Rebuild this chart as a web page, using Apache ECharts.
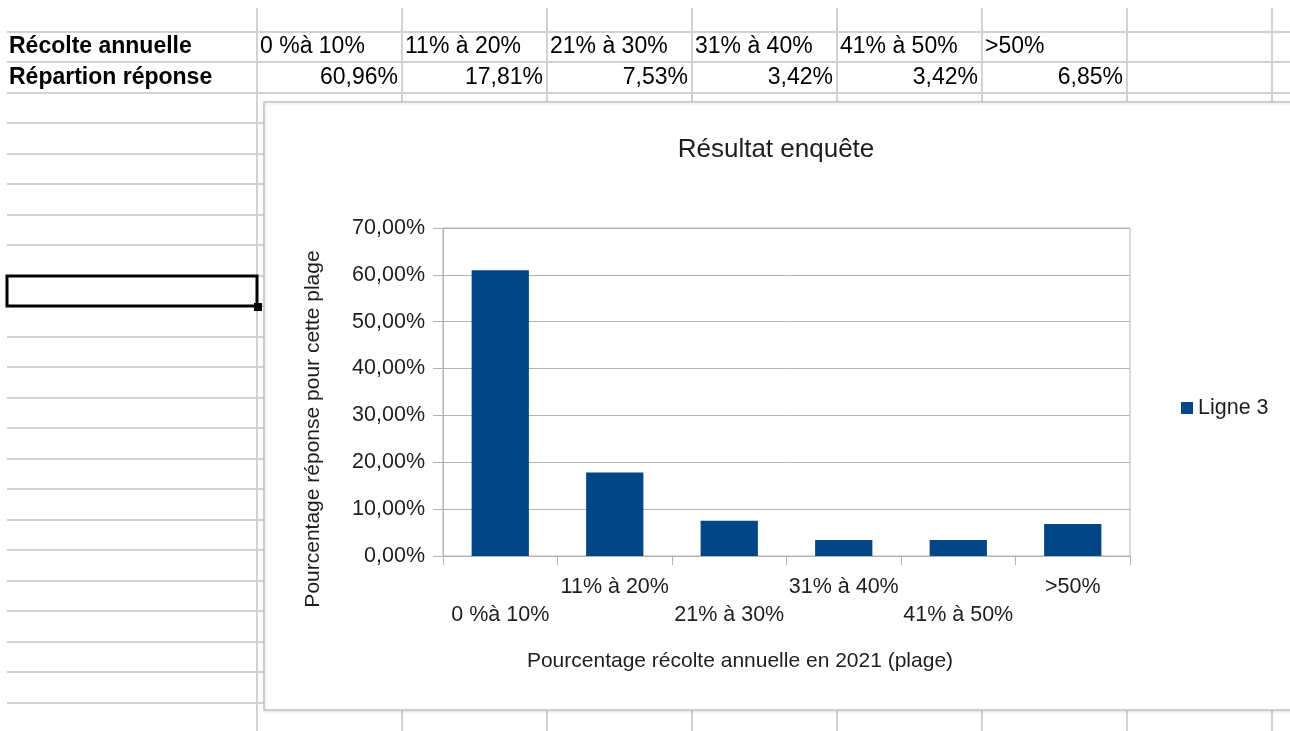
<!DOCTYPE html>
<html>
<head>
<meta charset="utf-8">
<title>Résultat enquête</title>
<script src="https://cdn.jsdelivr.net/npm/echarts@6.0.0/dist/echarts.min.js"></script>
<style>
  html, body { margin: 0; padding: 0; background: #fff; }
  #chart { width: 1290px; height: 731px; }
</style>
</head>
<body>
<div id="chart"></div>
<script>
// Data read from the sheet
const categories = ['0 %à 10%', '11% à 20%', '21% à 30%', '31% à 40%', '41% à 50%', '>50%'];
const shares = [60.96, 17.81, 7.53, 3.42, 3.42, 6.85];
const seriesName = 'Ligne 3';
const rowLabels = ['Récolte annuelle', 'Répartion réponse'];

const FONT = '"Liberation Sans", Arial, sans-serif';
const TEXT = '#1e1e1e';
const AXIS = '#b3b3b3';
const SHEET_LINE = '#d2d2d2';

function pct(v) {
    return v.toFixed(2).replace('.', ',') + '%';
}

// Spreadsheet background (grid, selection, cells)
function sheetGraphics() {
    const els = [];
    const colX = [];
    for (let k = 0; k < 8; k++) colX.push(257 + 145 * k);
    const rowY = [];
    for (let j = 0; j < 24; j++) rowY.push(Math.round(31.5 + 30.5 * j));

    colX.forEach(x => els.push({
        type: 'line', z: -10, silent: true,
        shape: { x1: x, y1: 8, x2: x, y2: 731 },
        style: { stroke: SHEET_LINE, lineWidth: 2 }
    }));
    rowY.forEach(y => els.push({
        type: 'line', z: -10, silent: true,
        shape: { x1: 7, y1: y, x2: 1290, y2: y },
        style: { stroke: SHEET_LINE, lineWidth: 2 }
    }));

    // row headers (bold)
    rowLabels.forEach((t, i) => els.push({
        type: 'text', z: -9, silent: true,
        x: 9, y: 47 + 30.5 * i,
        style: { text: t, font: 'bold 23px ' + FONT, fill: '#000', textVerticalAlign: 'middle' }
    }));
    // categories row, left aligned
    categories.forEach((c, i) => els.push({
        type: 'text', z: -9, silent: true,
        x: colX[i] + 3, y: 47,
        style: { text: c, font: '23px ' + FONT, fill: '#000', textVerticalAlign: 'middle' }
    }));
    // values row, right aligned
    shares.forEach((v, i) => els.push({
        type: 'text', z: -9, silent: true,
        x: colX[i + 1] - 4, y: 77.5,
        style: { text: pct(v), font: '23px ' + FONT, fill: '#000', textAlign: 'right', textVerticalAlign: 'middle' }
    }));

    // selected cell
    els.push({
        type: 'rect', z: -8, silent: true,
        shape: { x: 7, y: 276, width: 250, height: 30 },
        style: { fill: 'none', stroke: '#000', lineWidth: 3 }
    });
    els.push({
        type: 'rect', z: -8, silent: true,
        shape: { x: 254, y: 303, width: 8, height: 8 },
        style: { fill: '#000' }
    });

    // chart frame
    els.push({
        type: 'rect', z: -5, silent: true,
        shape: { x: 264, y: 102, width: 1060, height: 608 },
        style: {
            fill: '#fff', stroke: '#c4c4c4', lineWidth: 1.5,
            shadowBlur: 3, shadowColor: 'rgba(0,0,0,0.12)', shadowOffsetX: 1, shadowOffsetY: 1
        }
    });
    return els;
}

const chart = echarts.init(document.getElementById('chart'), null, { renderer: 'canvas' });

const option = {
    animation: false,
    backgroundColor: '#fff',
    textStyle: { fontFamily: FONT },
    title: {
        text: 'Résultat enquête',
        left: 776,
        top: 150,
        textAlign: 'center',
        textVerticalAlign: 'middle',
        padding: 0,
        textStyle: { fontSize: 26, fontWeight: 'normal', color: TEXT, fontFamily: FONT }
    },
    legend: {
        data: [seriesName],
        left: 1181,
        top: 396,
        padding: 0,
        icon: 'rect',
        itemWidth: 12,
        itemHeight: 12,
        textStyle: { fontSize: 21.5, color: TEXT, fontFamily: FONT, lineHeight: 24 }
    },
    grid: {
        left: 443, top: 228, width: 687, height: 328,
        show: true, borderColor: AXIS, borderWidth: 1,
        backgroundColor: 'transparent',
        containLabel: false
    },
    xAxis: {
        type: 'category',
        data: categories,
        name: 'Pourcentage récolte annuelle en 2021 (plage)',
        nameLocation: 'middle',
        nameGap: 95,
        nameTextStyle: { fontSize: 21, color: TEXT, fontFamily: FONT, padding: [0, 93, 0, 0] },
        axisLine: { show: true, lineStyle: { color: AXIS } },
        axisTick: { show: true, length: 9, alignWithLabel: false, lineStyle: { color: AXIS } },
        axisLabel: {
            interval: 0,
            hideOverlap: false,
            margin: 17,
            lineHeight: 28,
            fontSize: 21.5,
            color: TEXT,
            fontFamily: FONT,
            formatter: (v, i) => (i % 2 === 0 ? '\n' + v : v)
        },
        splitLine: { show: false }
    },
    yAxis: {
        type: 'value',
        min: 0,
        max: 70,
        interval: 10,
        name: 'Pourcentage réponse pour cette plage',
        nameLocation: 'middle',
        nameGap: 119,
        nameTextStyle: { fontSize: 21, color: TEXT, fontFamily: FONT, padding: [0, 74, 0, 0] },
        axisLine: { show: true, lineStyle: { color: AXIS } },
        axisTick: { show: true, length: 10, lineStyle: { color: AXIS } },
        axisLabel: { margin: 18, fontSize: 21.5, color: TEXT, fontFamily: FONT, formatter: v => pct(v) },
        splitLine: { show: true, lineStyle: { color: AXIS } }
    },
    series: [{
        name: seriesName,
        type: 'bar',
        data: shares,
        barWidth: '50%',
        itemStyle: { color: '#004586' }
    }],
    graphic: { elements: sheetGraphics() }
};

chart.setOption(option);
</script>
</body>
</html>
